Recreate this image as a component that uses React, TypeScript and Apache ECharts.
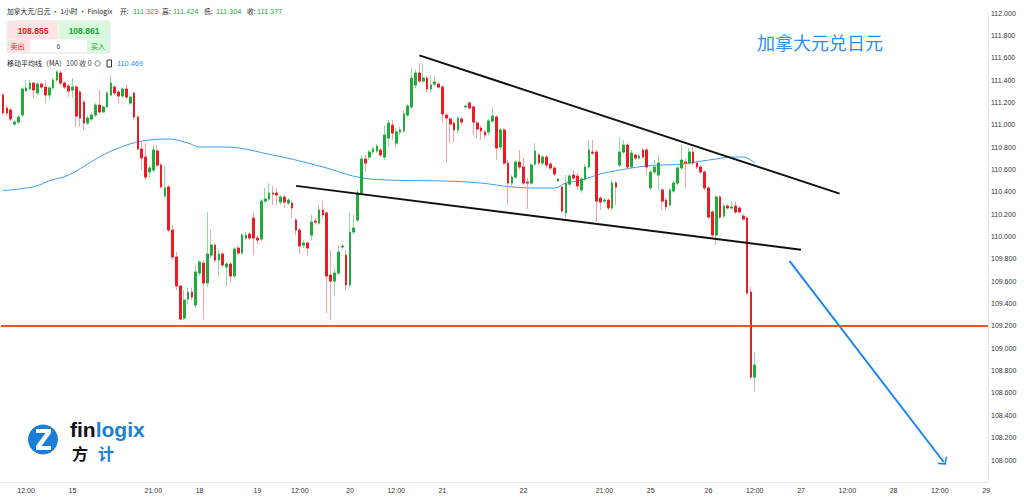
import React, { useEffect, useRef } from 'react';
import * as echarts from 'echarts';

// ---- axis data ----
const categoryCount = 256;
const tickIndex = [6, 18, 39, 51, 66, 77, 90, 102, 114, 135, 156, 168, 183, 195, 207, 219, 231, 243, 255];
const tickText = ['12:00', '15', '21:00', '18', '19', '12:00', '20', '12:00', '21', '22', '21:00', '25', '26', '12:00', '27', '12:00', '28', '12:00', '29'];
const priceMin = 107.8;
const priceMax = 112.0;
const priceStep = 0.2;

// ---- hourly candles: [open, close, low, high] ----
const ohlc: number[][] = [
  [111.266, 111.105, 111.087, 111.284],
  [111.150, 111.105, 111.078, 111.176],
  [111.132, 111.051, 111.033, 111.150],
  [111.006, 111.024, 110.988, 111.042],
  [111.024, 111.069, 111.006, 111.087],
  [111.087, 111.320, 111.069, 111.337],
  [111.302, 111.329, 111.293, 111.400],
  [111.320, 111.373, 111.311, 111.400],
  [111.373, 111.311, 111.239, 111.382],
  [111.284, 111.364, 111.266, 111.382],
  [111.364, 111.337, 111.320, 111.382],
  [111.337, 111.266, 111.194, 111.400],
  [111.266, 111.329, 111.221, 111.346],
  [111.329, 111.400, 111.320, 111.418],
  [111.400, 111.472, 111.382, 111.490],
  [111.463, 111.373, 111.355, 111.481],
  [111.373, 111.337, 111.320, 111.391],
  [111.346, 111.302, 111.248, 111.364],
  [111.311, 111.337, 111.239, 111.418],
  [111.337, 111.078, 110.980, 111.355],
  [111.293, 111.060, 110.980, 111.311],
  [111.203, 111.015, 110.953, 111.221],
  [111.015, 111.060, 110.997, 111.087],
  [111.051, 111.087, 111.033, 111.114],
  [111.087, 111.176, 111.069, 111.194],
  [111.176, 111.114, 111.096, 111.311],
  [111.114, 111.159, 111.105, 111.176],
  [111.159, 111.284, 111.150, 111.302],
  [111.266, 111.373, 111.257, 111.436],
  [111.337, 111.284, 111.266, 111.355],
  [111.293, 111.257, 111.194, 111.311],
  [111.257, 111.320, 111.239, 111.337],
  [111.320, 111.248, 111.230, 111.355],
  [111.194, 111.248, 111.176, 111.266],
  [111.284, 111.069, 111.042, 111.293],
  [111.069, 110.783, 110.774, 111.087],
  [110.783, 110.702, 110.595, 110.863],
  [110.711, 110.532, 110.505, 110.836],
  [110.577, 110.613, 110.523, 110.639],
  [110.595, 110.774, 110.577, 110.818],
  [110.765, 110.639, 110.622, 110.818],
  [110.639, 110.443, 110.434, 110.657],
  [110.362, 110.434, 110.344, 110.631],
  [110.443, 110.058, 110.040, 110.461],
  [110.058, 109.816, 109.789, 110.103],
  [109.816, 109.557, 109.521, 109.861],
  [109.557, 109.261, 109.252, 109.566],
  [109.270, 109.431, 109.252, 109.521],
  [109.440, 109.503, 109.387, 109.539],
  [109.503, 109.458, 109.431, 109.539],
  [109.387, 109.682, 109.360, 109.745],
  [109.673, 109.771, 109.646, 109.789],
  [109.762, 109.584, 109.261, 109.789],
  [109.584, 109.843, 109.548, 110.219],
  [109.834, 109.924, 109.807, 110.058],
  [109.924, 109.789, 109.762, 109.941],
  [109.789, 109.843, 109.637, 109.879],
  [109.843, 109.745, 109.727, 109.861],
  [109.727, 109.754, 109.548, 109.771],
  [109.754, 109.646, 109.584, 109.771],
  [109.646, 109.888, 109.628, 109.906],
  [109.897, 109.852, 109.834, 109.915],
  [109.852, 110.013, 109.834, 110.031],
  [109.986, 110.013, 109.968, 110.040],
  [110.022, 109.986, 109.968, 110.040],
  [110.165, 109.986, 109.834, 110.210],
  [109.986, 109.968, 109.932, 110.013],
  [109.977, 110.317, 109.959, 110.335],
  [110.317, 110.335, 110.299, 110.434],
  [110.335, 110.389, 110.317, 110.478],
  [110.389, 110.380, 110.282, 110.452],
  [110.389, 110.371, 110.282, 110.434],
  [110.308, 110.353, 110.282, 110.371],
  [110.353, 110.308, 110.255, 110.371],
  [110.299, 110.326, 110.282, 110.344],
  [110.299, 110.255, 110.165, 110.317],
  [110.147, 110.058, 110.013, 110.165],
  [110.058, 109.915, 109.843, 110.076],
  [109.924, 109.941, 109.897, 109.968],
  [109.941, 109.897, 109.825, 109.959],
  [110.013, 110.129, 109.968, 110.192],
  [110.138, 110.129, 110.103, 110.165],
  [110.120, 110.237, 110.103, 110.282],
  [110.237, 110.192, 110.165, 110.317],
  [110.210, 109.646, 109.315, 110.228],
  [109.655, 109.601, 109.252, 109.879],
  [109.601, 109.673, 109.476, 109.718],
  [109.673, 109.861, 109.655, 109.924],
  [109.906, 109.915, 109.888, 109.932],
  [109.834, 109.566, 109.521, 109.879],
  [109.566, 110.040, 109.548, 110.210],
  [110.040, 110.076, 110.022, 110.192],
  [110.147, 110.389, 110.129, 110.416],
  [110.389, 110.693, 110.371, 110.729],
  [110.693, 110.657, 110.577, 110.729],
  [110.711, 110.756, 110.684, 110.774],
  [110.756, 110.783, 110.738, 110.801],
  [110.765, 110.809, 110.747, 110.827],
  [110.774, 110.729, 110.711, 110.792],
  [110.711, 110.908, 110.684, 110.997],
  [110.881, 111.015, 110.801, 111.042],
  [110.997, 110.926, 110.863, 111.042],
  [110.836, 110.935, 110.801, 110.971],
  [110.935, 110.953, 110.908, 110.980],
  [110.944, 111.096, 110.926, 111.132],
  [111.087, 111.167, 111.069, 111.185],
  [111.159, 111.418, 111.141, 111.508],
  [111.355, 111.463, 111.329, 111.490],
  [111.463, 111.391, 111.373, 111.552],
  [111.391, 111.418, 111.373, 111.552],
  [111.418, 111.320, 111.293, 111.436],
  [111.320, 111.355, 111.284, 111.445],
  [111.364, 111.382, 111.346, 111.436],
  [111.364, 111.337, 111.320, 111.382],
  [111.337, 111.096, 111.015, 111.355],
  [111.087, 111.060, 110.666, 111.105],
  [111.051, 111.006, 110.836, 111.069],
  [111.015, 110.953, 110.845, 111.033],
  [110.953, 111.060, 110.926, 111.078],
  [111.051, 111.024, 110.997, 111.069],
  [111.159, 111.167, 111.150, 111.176],
  [111.194, 111.150, 111.132, 111.212],
  [111.159, 111.024, 110.908, 111.176],
  [111.015, 110.962, 110.881, 111.033],
  [110.971, 110.944, 110.863, 110.988],
  [110.935, 110.908, 110.881, 110.953],
  [110.935, 111.033, 110.908, 111.051],
  [111.033, 111.078, 111.015, 111.159],
  [111.069, 110.792, 110.684, 111.087],
  [110.801, 110.953, 110.774, 110.971],
  [110.953, 110.657, 110.639, 110.971],
  [110.657, 110.478, 110.282, 110.684],
  [110.478, 110.532, 110.452, 110.550],
  [110.532, 110.666, 110.514, 110.684],
  [110.666, 110.622, 110.595, 110.774],
  [110.622, 110.478, 110.461, 110.702],
  [110.487, 110.478, 110.246, 110.523],
  [110.478, 110.639, 110.461, 110.657],
  [110.648, 110.765, 110.631, 110.836],
  [110.729, 110.657, 110.639, 110.747],
  [110.657, 110.711, 110.639, 110.729],
  [110.711, 110.639, 110.613, 110.729],
  [110.648, 110.613, 110.595, 110.666],
  [110.613, 110.559, 110.541, 110.631],
  [110.496, 110.514, 110.487, 110.523],
  [110.443, 110.228, 110.210, 110.461],
  [110.210, 110.478, 110.165, 110.550],
  [110.469, 110.541, 110.452, 110.559],
  [110.550, 110.523, 110.505, 110.595],
  [110.541, 110.452, 110.416, 110.568],
  [110.416, 110.514, 110.389, 110.532],
  [110.514, 110.622, 110.496, 110.648],
  [110.622, 110.774, 110.604, 110.863],
  [110.756, 110.747, 110.729, 110.863],
  [110.756, 110.317, 110.129, 110.774],
  [110.344, 110.308, 110.237, 110.362],
  [110.317, 110.326, 110.299, 110.344],
  [110.326, 110.255, 110.237, 110.344],
  [110.255, 110.478, 110.237, 110.505],
  [110.478, 110.443, 110.282, 110.496],
  [110.639, 110.756, 110.622, 110.890],
  [110.756, 110.818, 110.738, 110.863],
  [110.818, 110.622, 110.595, 110.836],
  [110.622, 110.747, 110.604, 110.774],
  [110.729, 110.702, 110.684, 110.747],
  [110.702, 110.720, 110.684, 110.738],
  [110.774, 110.711, 110.693, 110.792],
  [110.774, 110.622, 110.550, 110.792],
  [110.434, 110.577, 110.416, 110.595],
  [110.577, 110.622, 110.559, 110.684],
  [110.550, 110.657, 110.416, 110.729],
  [110.416, 110.317, 110.237, 110.434],
  [110.326, 110.264, 110.237, 110.344],
  [110.282, 110.416, 110.264, 110.434],
  [110.407, 110.478, 110.389, 110.496],
  [110.478, 110.613, 110.461, 110.631],
  [110.613, 110.684, 110.595, 110.818],
  [110.666, 110.657, 110.434, 110.702],
  [110.657, 110.756, 110.639, 110.792],
  [110.756, 110.657, 110.639, 110.801],
  [110.657, 110.622, 110.604, 110.675],
  [110.622, 110.577, 110.559, 110.639],
  [110.577, 110.434, 110.416, 110.595],
  [110.434, 110.174, 110.156, 110.452],
  [110.219, 110.013, 109.986, 110.237],
  [110.013, 110.353, 109.924, 110.371],
  [110.353, 110.174, 110.156, 110.371],
  [110.183, 110.273, 110.165, 110.299],
  [110.273, 110.255, 110.237, 110.291],
  [110.255, 110.264, 110.237, 110.317],
  [110.273, 110.219, 110.201, 110.317],
  [110.255, 110.219, 110.201, 110.273],
  [110.183, 110.156, 110.138, 110.201],
  [110.165, 109.494, 109.476, 110.183],
  [109.503, 108.742, 108.724, 109.548],
  [108.742, 108.850, 108.608, 108.966],
];

// ---- 100-period moving average (read at sample points) ----
const maIndex = [0, 8, 12, 17, 25, 30, 36, 43, 48, 51, 57, 70, 83, 92, 100, 115, 124, 132, 139, 143, 146, 150, 156, 167, 176, 183, 190, 192, 195];
const maValue = [110.411, 110.445, 110.499, 110.550, 110.711, 110.792, 110.854, 110.872, 110.836, 110.801, 110.801, 110.729, 110.622, 110.532, 110.505, 110.496, 110.478, 110.443, 110.434, 110.434, 110.478, 110.505, 110.568, 110.631, 110.648, 110.684, 110.711, 110.711, 110.657];

// ---- annotations ----
const supportLevel = 109.2;
const upperTrend = [[108, 111.621], [217, 110.384]];
const lowerTrend = [[76, 110.453], [207, 109.882]];
const arrowLine = [[204, 109.781], [244, 107.982]];

const UP = '#1fab3d';
const DOWN = '#ec1c24';
const UP_WICK = '#93d9a3';
const DOWN_WICK = '#f5a3a6';
const BLUE = '#2196f3';

export default function App() {
  const ref = useRef<HTMLDivElement>(null);

  useEffect(() => {
    document.body.style.margin = '0';
    if (!ref.current) return;
    const chart = echarts.init(ref.current, undefined, { renderer: 'svg' });

    const categories = Array.from({ length: categoryCount }, (_, i) => String(i));
    const labelMap: Record<number, string> = {};
    tickIndex.forEach((idx, k) => { labelMap[idx] = tickText[k]; });
    const bodies = ohlc.map(([o, c]) => [o, c, Math.min(o, c), Math.max(o, c)]);
    const maData = maIndex.map((idx, k) => [idx, maValue[k]]);

    const cjk = '"Noto Sans CJK SC", "Liberation Sans", sans-serif';
    const num = '"Liberation Sans", Arial, sans-serif';

    const option: any = {
      animation: false,
      backgroundColor: '#ffffff',
      grid: { left: 1, right: 36, top: 13, bottom: 18.65 },
      xAxis: {
        type: 'category',
        data: categories,
        boundaryGap: true,
        axisLine: { show: true, lineStyle: { color: '#e8eaee', width: 1 } },
        axisTick: { show: false },
        splitLine: { show: false },
        axisLabel: {
          interval: 0,
          formatter: (_v: string, i: number) => labelMap[i] ?? '',
          fontSize: 7,
          color: '#333',
          margin: 5,
          fontFamily: num,
        },
      },
      yAxis: {
        type: 'value',
        position: 'right',
        min: priceMin,
        max: priceMax,
        interval: priceStep,
        axisLine: { show: true, lineStyle: { color: '#e8eaee', width: 1 } },
        axisTick: { show: false },
        splitLine: { show: false },
        axisLabel: {
          formatter: (v: number) => (v < priceMin + 0.1 ? '' : v.toFixed(3)),
          fontSize: 7,
          color: '#333',
          margin: 3,
          fontFamily: num,
        },
      },
      series: [
        {
          type: 'line',
          data: maData,
          smooth: 0.4,
          symbol: 'none',
          z: 1,
          lineStyle: { color: '#3d9bf5', width: 1 },
          silent: true,
          markLine: {
            silent: true,
            symbol: ['none', 'path://M10,0 L20,7 L20,10 L10,3 L0,10 L0,7 Z'],
            symbolSize: [11, 7],
            label: { show: false },
            lineStyle: { color: '#1a86f0', width: 2, type: 'solid' },
            data: [[{ coord: arrowLine[0] }, { coord: arrowLine[1] }]],
          },
        },
        {
          type: 'candlestick',
          data: ohlc,
          barWidth: 2.2,
          z: 2,
          silent: true,
          itemStyle: {
            color: UP_WICK, color0: DOWN_WICK,
            borderColor: UP_WICK, borderColor0: DOWN_WICK, borderWidth: 1,
          },
        },
        {
          type: 'candlestick',
          data: bodies,
          barWidth: 2.2,
          z: 3,
          silent: true,
          itemStyle: {
            color: UP, color0: DOWN,
            borderColor: UP, borderColor0: DOWN, borderWidth: 1,
          },
          markLine: {
            silent: true,
            symbol: ['none', 'none'],
            label: { show: false },
            lineStyle: { type: 'solid' },
            data: [
              { yAxis: supportLevel, lineStyle: { color: '#f2502a', width: 2, type: 'solid' } },
              [
                { coord: upperTrend[0], lineStyle: { color: '#111', width: 2, type: 'solid' } },
                { coord: upperTrend[1] },
              ],
              [
                { coord: lowerTrend[0], lineStyle: { color: '#111', width: 2, type: 'solid' } },
                { coord: lowerTrend[1] },
              ],
            ],
          },
        },
      ],
      graphic: [
        // header line
        { type: 'text', left: 7, top: 7.5, style: { text: '加拿大元/日元 · 1小时 · Finlogix', fontSize: 6.8, fill: '#222', fontFamily: cjk } },
        { type: 'text', left: 120, top: 7.5, style: { text: '开:', fontSize: 6.8, fill: '#222', fontFamily: cjk } },
        { type: 'text', left: 133, top: 8, style: { text: '111.323', fontSize: 7.3, fill: UP, fontFamily: num } },
        { type: 'text', left: 162, top: 7.5, style: { text: '高:', fontSize: 6.8, fill: '#222', fontFamily: cjk } },
        { type: 'text', left: 173, top: 8, style: { text: '111.424', fontSize: 7.3, fill: UP, fontFamily: num } },
        { type: 'text', left: 204, top: 7.5, style: { text: '低:', fontSize: 6.8, fill: '#222', fontFamily: cjk } },
        { type: 'text', left: 216, top: 8, style: { text: '111.304', fontSize: 7.3, fill: UP, fontFamily: num } },
        { type: 'text', left: 247, top: 7.5, style: { text: '收:', fontSize: 6.8, fill: '#222', fontFamily: cjk } },
        { type: 'text', left: 257, top: 8, style: { text: '111.377', fontSize: 7.3, fill: UP, fontFamily: num } },

        // sell / buy box
        { type: 'rect', shape: { x: 7, y: 21, width: 103, height: 32, r: 3 }, style: { fill: '#fff', stroke: '#e2e2e2', lineWidth: 1 } },
        { type: 'rect', shape: { x: 7.5, y: 21.5, width: 51, height: 18 }, style: { fill: '#fde3e3' } },
        { type: 'rect', shape: { x: 59, y: 21.5, width: 50.5, height: 18 }, style: { fill: '#d9f8dd' } },
        { type: 'rect', shape: { x: 7.5, y: 39.5, width: 22.5, height: 13 }, style: { fill: '#fde3e3' } },
        { type: 'rect', shape: { x: 87, y: 39.5, width: 22.5, height: 13 }, style: { fill: '#d9f8dd' } },
        { type: 'text', x: 33, y: 31, style: { text: '108.855', fontSize: 8.5, fill: DOWN, fontFamily: num, fontWeight: 'bold', align: 'center', verticalAlign: 'middle' } },
        { type: 'text', x: 84, y: 31, style: { text: '108.861', fontSize: 8.5, fill: '#16a434', fontFamily: num, fontWeight: 'bold', align: 'center', verticalAlign: 'middle' } },
        { type: 'text', x: 17.5, y: 46, style: { text: '卖出', fontSize: 7, fill: DOWN, fontFamily: cjk, align: 'center', verticalAlign: 'middle' } },
        { type: 'text', x: 58.5, y: 46, style: { text: '6', fontSize: 7, fill: '#555', fontFamily: num, align: 'center', verticalAlign: 'middle' } },
        { type: 'text', x: 98, y: 46, style: { text: '买入', fontSize: 7, fill: '#16a434', fontFamily: cjk, align: 'center', verticalAlign: 'middle' } },

        // MA legend
        { type: 'text', left: 7, top: 59, style: { text: '移动平均线（MA）', fontSize: 7, fill: '#222', fontFamily: cjk } },
        { type: 'text', left: 66, top: 59, style: { text: '100 收 0', fontSize: 7, fill: '#444', fontFamily: cjk } },
        { type: 'circle', shape: { cx: 97.5, cy: 63.5, r: 2.6 }, style: { fill: 'none', stroke: '#777', lineWidth: 1 } },
        { type: 'rect', shape: { x: 107, y: 60, width: 4.5, height: 7 }, style: { fill: 'none', stroke: '#333', lineWidth: 1 } },
        { type: 'text', left: 117, top: 59.5, style: { text: '110.469', fontSize: 7.3, fill: BLUE, fontFamily: num } },

        // title
        { type: 'text', left: 757, top: 33, style: { text: '加拿大元兑日元', fontSize: 18, fill: '#2b8ff0', fontFamily: cjk } },

        // logo
        { type: 'circle', shape: { cx: 43, cy: 439.5, r: 15 }, style: { fill: '#1a7fd8' } },
        {
          type: 'polygon',
          shape: { points: [[36, 429], [51, 429], [51, 433], [41.5, 446], [51, 446], [51, 450], [36, 450], [36, 446], [45.5, 433], [36, 433]] },
          style: { fill: '#ffffff' },
        },
        {
          type: 'text', left: 70, top: 419,
          style: {
            text: '{a|fin}{b|logix}',
            rich: {
              a: { fontSize: 21, lineHeight: 21, fontWeight: 'bold', fill: '#111', fontFamily: num },
              b: { fontSize: 21, lineHeight: 21, fontWeight: 'bold', fill: '#1a7fd8', fontFamily: num },
            },
          },
        },
        { type: 'text', x: 80, y: 453, style: { text: '方', fontSize: 16, lineHeight: 16, fontWeight: 'bold', fill: '#111', fontFamily: cjk, align: 'center', verticalAlign: 'middle' } },
        { type: 'text', x: 106, y: 453, style: { text: '计', fontSize: 16, lineHeight: 16, fontWeight: 'bold', fill: '#1a7fd8', fontFamily: cjk, align: 'center', verticalAlign: 'middle' } },
      ],
    };

    chart.setOption(option);
    return () => chart.dispose();
  }, []);

  return <div ref={ref} style={{ width: 1024, height: 501 }} />;
}
